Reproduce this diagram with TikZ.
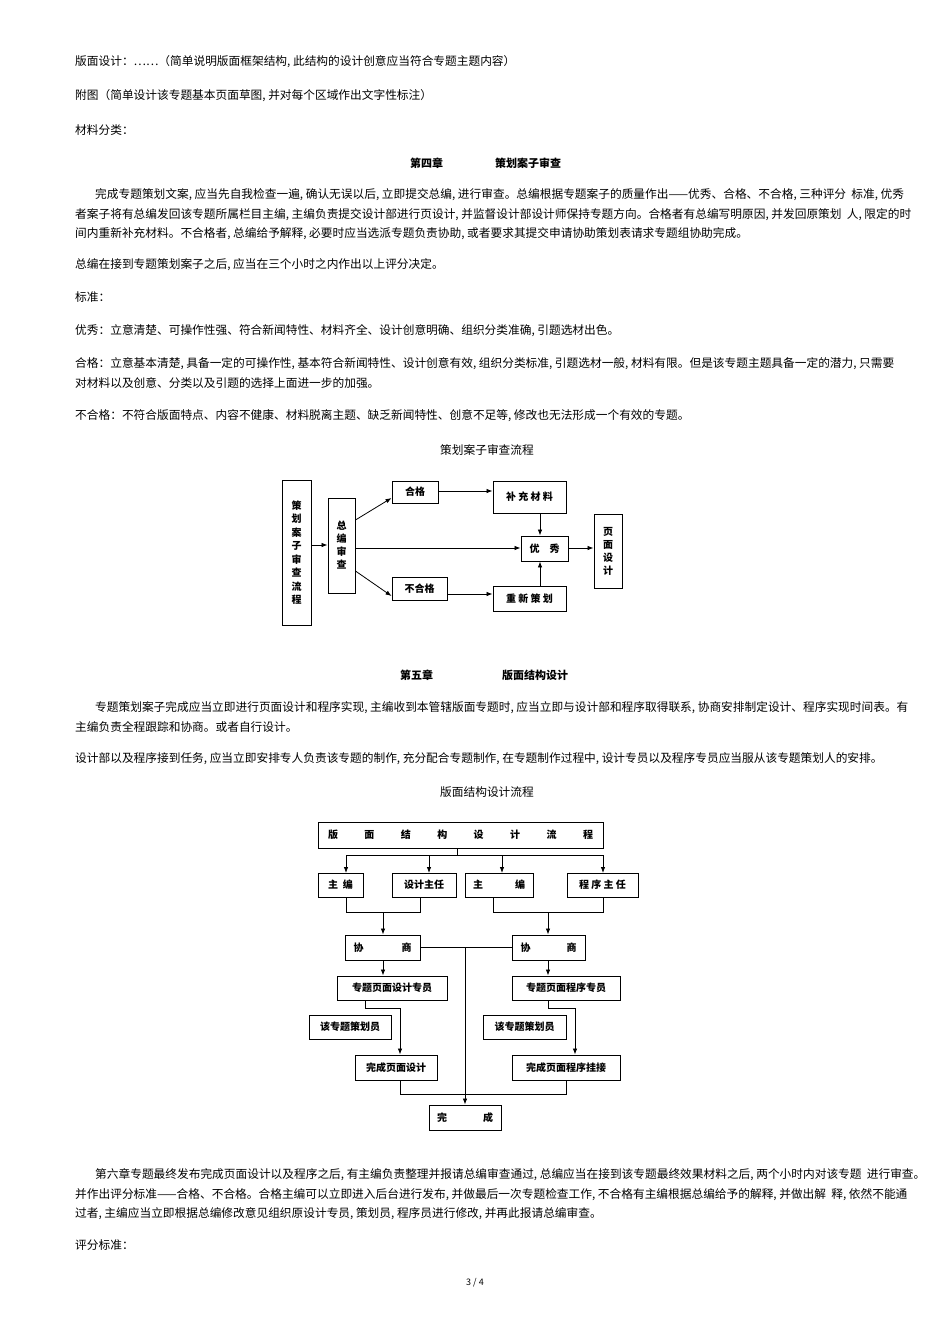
\documentclass[tikz,border=0pt]{standalone}
\usepackage{fontspec}
\setmainfont{Noto Sans CJK SC}
\usetikzlibrary{arrows.meta,calc}
\begin{document}
\begin{tikzpicture}[x=1pt,y=-1pt,
  txt/.style={anchor=west,inner sep=0,font=\fontsize{11.7}{13}\selectfont},
  ctxt/.style={inner sep=0,font=\fontsize{11.7}{13}\selectfont},
  bx/.style={draw,line width=0.9pt,inner sep=0,font=\fontsize{10}{12}\selectfont\bfseries},
  ar/.style={line width=0.8pt,-{Latex[length=6pt,width=4.5pt]}},
  ln/.style={line width=0.8pt}]
\useasboundingbox (0,0) rectangle (950,1344);
\fill[white] (0,0) rectangle (950,1344);
% body text
\node[txt] (t1) at (75,62) {版面设计：……（简单说明版面框架结构, 此结构的设计创意应当符合专题主题内容）};
\node[txt] (t2) at (75,96) {附图（简单设计该专题基本页面草图, 并对每个区域作出文字性标注）};
\node[txt] (t3) at (75,130) {材料分类：};
\node[txt,font=\fontsize{11}{13}\selectfont\bfseries] (c4a) at (410,163) {第四章};
\node[txt,font=\fontsize{11}{13}\selectfont\bfseries] (c4b) at (495,163) {策划案子审查};
\node[txt] (p1) at (95,195) {完成专题策划文案, 应当先自我检查一遍, 确认无误以后, 立即提交总编, 进行审查。总编根据专题案子的质量作出——优秀、合格、不合格, 三种评分 \ 标准, 优秀};
\node[txt] (p2) at (75,215) {者案子将有总编发回该专题所属栏目主编, 主编负责提交设计部进行页设计, 并监督设计部设计师保持专题方向。合格者有总编写明原因, 并发回原策划 \ 人, 限定的时};
\node[txt] (p3) at (75,234) {间内重新补充材料。不合格者, 总编给予解释, 必要时应当选派专题负责协助, 或者要求其提交申请协助策划表请求专题组协助完成。};
\node[txt] (p4) at (75,265) {总编在接到专题策划案子之后, 应当在三个小时之内作出以上评分决定。};
\node[txt] (p5) at (75,297) {标准：};
\node[txt] (p6) at (75,331) {优秀：立意清楚、可操作性强、符合新闻特性、材料齐全、设计创意明确、组织分类准确, 引题选材出色。};
\node[txt] (p7) at (75,364) {合格：立意基本清楚, 具备一定的可操作性, 基本符合新闻特性、设计创意有效, 组织分类标准, 引题选材一般, 材料有限。但是该专题主题具备一定的潜力, 只需要};
\node[txt] (p8) at (75,383) {对材料以及创意、分类以及引题的选择上面进一步的加强。};
\node[txt] (p9) at (75,416) {不合格：不符合版面特点、内容不健康、材料脱离主题、缺乏新闻特性、创意不足等, 修改也无法形成一个有效的专题。};
\node[ctxt] (f1t) at (487,450) {策划案子审查流程};
\node[txt,font=\fontsize{11}{13}\selectfont\bfseries] (c5a) at (400,675) {第五章};
\node[txt,font=\fontsize{11}{13}\selectfont\bfseries] (c5b) at (502,675) {版面结构设计};
\node[txt] (q1) at (95,708) {专题策划案子完成应当立即进行页面设计和程序实现, 主编收到本管辖版面专题时, 应当立即与设计部和程序取得联系, 协商安排制定设计、程序实现时间表。有};
\node[txt] (q2) at (75,727) {主编负责全程跟踪和协商。或者自行设计。};
\node[txt] (q3) at (75,759) {设计部以及程序接到任务, 应当立即安排专人负责该专题的制作, 充分配合专题制作, 在专题制作过程中, 设计专员以及程序专员应当服从该专题策划人的安排。};
\node[ctxt] (f2t) at (487,792) {版面结构设计流程};
\node[txt] (r1) at (95,1175) {第六章专题最终发布完成页面设计以及程序之后, 有主编负责整理并报请总编审查通过, 总编应当在接到该专题最终效果材料之后, 两个小时内对该专题 \ 进行审查。};
\node[txt] (r2) at (75,1195) {并作出评分标准——合格、不合格。合格主编可以立即进入后台进行发布, 并做最后一次专题检查工作, 不合格有主编根据总编给予的解释, 并做出解 \ 释, 依然不能通};
\node[txt] (r3) at (75,1214) {过者, 主编应当立即根据总编修改意见组织原设计专员, 策划员, 程序员进行修改, 并再此报请总编审查。};
\node[txt] (r4) at (75,1245) {评分标准：};
\node[ctxt,font=\fontsize{9}{11}\selectfont] (pg) at (475,1283) {3 / 4};

% flowchart 1
\node[bx,minimum width=29,minimum height=145,align=center,font=\fontsize{10}{13.5}\selectfont\bfseries] (a1) at (296.5,552.5) {策\\划\\案\\子\\审\\查\\流\\程};
\node[bx,minimum width=27,minimum height=95,align=center,font=\fontsize{10}{13}\selectfont\bfseries] (a2) at (341.5,545.5) {总\\编\\审\\查};
\node[bx,minimum width=46,minimum height=22] (hg) at (415,492) {合格};
\node[bx,minimum width=73,minimum height=32] (bc) at (529.5,497) {补\ 充\ 材\ 料};
\node[bx,minimum width=47,minimum height=25] (yx) at (544.5,548.5) {优\quad 秀};
\node[bx,minimum width=28,minimum height=74,align=center,font=\fontsize{10}{13}\selectfont\bfseries] (ym) at (608,551) {页\\面\\设\\计};
\node[bx,minimum width=55,minimum height=23] (bhg) at (419.5,588.5) {不合格};
\node[bx,minimum width=73,minimum height=25] (cx) at (529.5,598.5) {重\ 新\ 策\ 划};
\draw[ar] (a1.east |- 0,545) -- (a2.west |- 0,545);
\draw[ar] (a2.east |- 0,520) -- (hg.west |- 0,498);
\draw[ar] (a2.east |- 0,571) -- (bhg.west |- 0,596);
\draw[ar] (a2.east |- 0,548) -- (yx.west |- 0,548);
\draw[ar] (hg.east |- 0,491) -- (bc.west |- 0,491);
\draw[ar] (bc.south -| 540,0) -- (yx.north -| 540,0);
\draw[ar] (bhg.east |- 0,594) -- (cx.west |- 0,594);
\draw[ar] (cx.north -| 540,0) -- (yx.south -| 540,0);
\draw[ar] (yx.east |- 0,548) -- (ym.west |- 0,548);

% flowchart 2
\node[bx,minimum width=285,minimum height=26] (h) at (460.5,835) {\makebox[265pt]{版\hfill 面\hfill 结\hfill 构\hfill 设\hfill 计\hfill 流\hfill 程}};
\node[bx,minimum width=45,minimum height=24] (z1) at (340.5,885) {主\ \ 编};
\node[bx,minimum width=64,minimum height=24] (sj) at (424,885) {设计主任};
\node[bx,minimum width=68,minimum height=24] (z2) at (499,885) {\makebox[52pt]{主\hfill 编}};
\node[bx,minimum width=71,minimum height=24] (cz) at (602.5,885) {程\ 序\ 主\ 任};
\coordinate (hb) at (457,855);
\draw[ln] (h.south -| hb) -- (hb);
\draw[ln] (346,855) -- (603,855);
\draw[ar] (346,855) -- (346,873);
\draw[ar] (429,855) -- (429,873);
\draw[ar] (502,855) -- (502,873);
\draw[ar] (603,855) -- (603,873);
\node[bx,minimum width=75,minimum height=25] (x1) at (382.5,947.5) {\makebox[58pt]{协\hfill 商}};
\node[bx,minimum width=73,minimum height=25] (x2) at (548.5,947.5) {\makebox[56pt]{协\hfill 商}};
\draw[ln] (z1.south -| 346,0) -- (346,912) -- (420,912) -- (sj.south -| 420,0);
\draw[ar] (383,912) -- (x1.north -| 383,0);
\draw[ln] (z2.south -| 493,0) -- (493,912) -- (603,912) -- (cz.south -| 603,0);
\draw[ar] (548,912) -- (x2.north -| 548,0);
\node[bx,minimum width=110,minimum height=24] (d1) at (392,988) {专题页面设计专员};
\node[bx,minimum width=108,minimum height=24] (d2) at (566,988) {专题页面程序专员};
\draw[ar] (x1.south -| 383,0) -- (d1.north -| 383,0);
\draw[ar] (x2.south -| 548,0) -- (d2.north -| 548,0);
\node[bx,minimum width=82,minimum height=24] (e1) at (350,1027) {该专题策划员};
\node[bx,minimum width=83,minimum height=24] (e2) at (524.5,1027) {该专题策划员};
\node[bx,minimum width=82,minimum height=25] (g1) at (396,1067.5) {完成页面设计};
\node[bx,minimum width=108,minimum height=25] (g2) at (566,1067.5) {完成页面程序挂接};
\draw[ar] (d1.south -| 365,0) -- (365,1008) -- (400,1008) -- (g1.north -| 400,0);
\draw[ar] (d2.south -| 548,0) -- (548,1008) -- (575,1008) -- (g2.north -| 575,0);
\node[bx,minimum width=72,minimum height=25] (w) at (465,1117.5) {\makebox[56pt]{完\hfill 成}};
\draw[ln] (x1.east) -- (x2.west);
\draw[ar] (465,947.5) -- (w.north);
\draw[ln] (g1.south -| 400,0) -- (400,1094) -- (566,1094) -- (g2.south -| 566,0);
\end{tikzpicture}
\end{document}
